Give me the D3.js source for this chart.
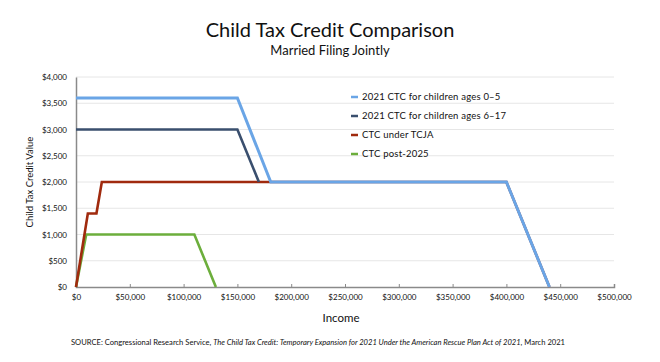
<!DOCTYPE html>
<html><head><meta charset="utf-8">
<script src="https://cdn.jsdelivr.net/npm/d3@7"></script>
<style>
body{margin:0;background:#fff;}
text{font-family:Lato,"Open Sans",sans-serif;fill:#111;}
</style></head>
<body><svg id="c" width="660" height="362"></svg>
<script>
const seriesNames = ["2021 CTC for children ages 0–5","2021 CTC for children ages 6–17","CTC under TCJA","CTC post-2025"];
const seriesColors = ["#6aa5e6","#3a4f6e","#a02a0e","#6cae3c"];
const ages0to5 = [[0,3600],[150000,3600],[181000,2000],[400000,2000],[440000,0]];
const ages6to17 = [[0,3000],[150000,3000],[170000,2000]];
const tcja = [[0,0],[11000,1400],[19000,1400],[24000,2000],[400000,2000],[440000,0]];
const post2025 = [[0,0],[9500,1000],[110000,1000],[130000,0]];
const xTicks = [0,50000,100000,150000,200000,250000,300000,350000,400000,450000,500000];
const yTicks = [0,500,1000,1500,2000,2500,3000,3500,4000];

const svg = d3.select("#c");
const x = d3.scaleLinear().domain([0,500000]).range([76,614]);
const y = d3.scaleLinear().domain([0,4000]).range([287,77]);
const fmt = d => "$" + d3.format(",")(d);

// grid
svg.append("g").selectAll("line").data(yTicks.filter(d=>d>0)).join("line")
  .attr("x1",76).attr("x2",614).attr("y1",d=>y(d)).attr("y2",d=>y(d))
  .attr("stroke","#e6e6e6").attr("stroke-width",1);

// axes
const xa = svg.append("g").attr("transform","translate(0,287)")
  .call(d3.axisBottom(x).tickValues(xTicks).tickFormat(fmt).tickSize(-3).tickPadding(7));
xa.select(".domain").attr("stroke","#8a8a8a").attr("stroke-width",1.5);
xa.selectAll(".tick line").attr("stroke","#8a8a8a");
xa.selectAll("text").attr("font-size",8).attr("fill","#222").style("font-family","Lato,sans-serif");

const ya = svg.append("g").attr("transform","translate(76,0)")
  .call(d3.axisLeft(y).tickValues(yTicks).tickFormat(fmt).tickSize(0).tickPadding(9));
ya.select(".domain").attr("stroke","#8a8a8a").attr("stroke-width",1.5);
ya.selectAll("text").attr("font-size",8).attr("fill","#222").style("font-family","Lato,sans-serif");

// lines
const line = d3.line().x(d=>x(d[0])).y(d=>y(d[1]));
const data = [post2025, tcja, ages6to17, ages0to5];
const cols = [seriesColors[3], seriesColors[2], seriesColors[1], seriesColors[0]];
const widths = [2.6, 2.6, 2.6, 3.0];
svg.append("g").selectAll("path").data(data).join("path")
  .attr("d",line).attr("fill","none")
  .attr("stroke",(d,i)=>cols[i]).attr("stroke-width",(d,i)=>widths[i])
  .attr("stroke-linejoin","miter");

// legend
const lg = svg.append("g").selectAll("g").data(seriesNames).join("g")
  .attr("transform",(d,i)=>`translate(351,${97+i*19})`);
lg.append("line").attr("x1",0).attr("x2",7).attr("stroke",(d,i)=>seriesColors[i]).attr("stroke-width",2.5);
lg.append("text").attr("x",11).attr("dy","0.35em").attr("font-size",9.5).attr("letter-spacing",0.2).text(d=>d);

// titles
svg.append("text").attr("x",330).attr("y",37).attr("text-anchor","middle").attr("font-size",20).text("Child Tax Credit Comparison");
svg.append("text").attr("x",330).attr("y",55).attr("text-anchor","middle").attr("font-size",13).text("Married Filing Jointly");
svg.append("text").attr("x",341).attr("y",322).attr("text-anchor","middle").attr("font-size",11.5).text("Income");
svg.append("text").attr("transform","translate(33,182) rotate(-90)").attr("text-anchor","middle").attr("font-size",9.5).text("Child Tax Credit Value");

const src = svg.append("text").attr("x",318).attr("y",345).attr("text-anchor","middle").attr("font-size",7.6);
src.append("tspan").text("SOURCE: Congressional Research Service, ");
src.append("tspan").attr("font-style","italic").text("The Child Tax Credit: Temporary Expansion for 2021 Under the American Rescue Plan Act of 2021");
src.append("tspan").text(", March 2021");
</script></body></html>
